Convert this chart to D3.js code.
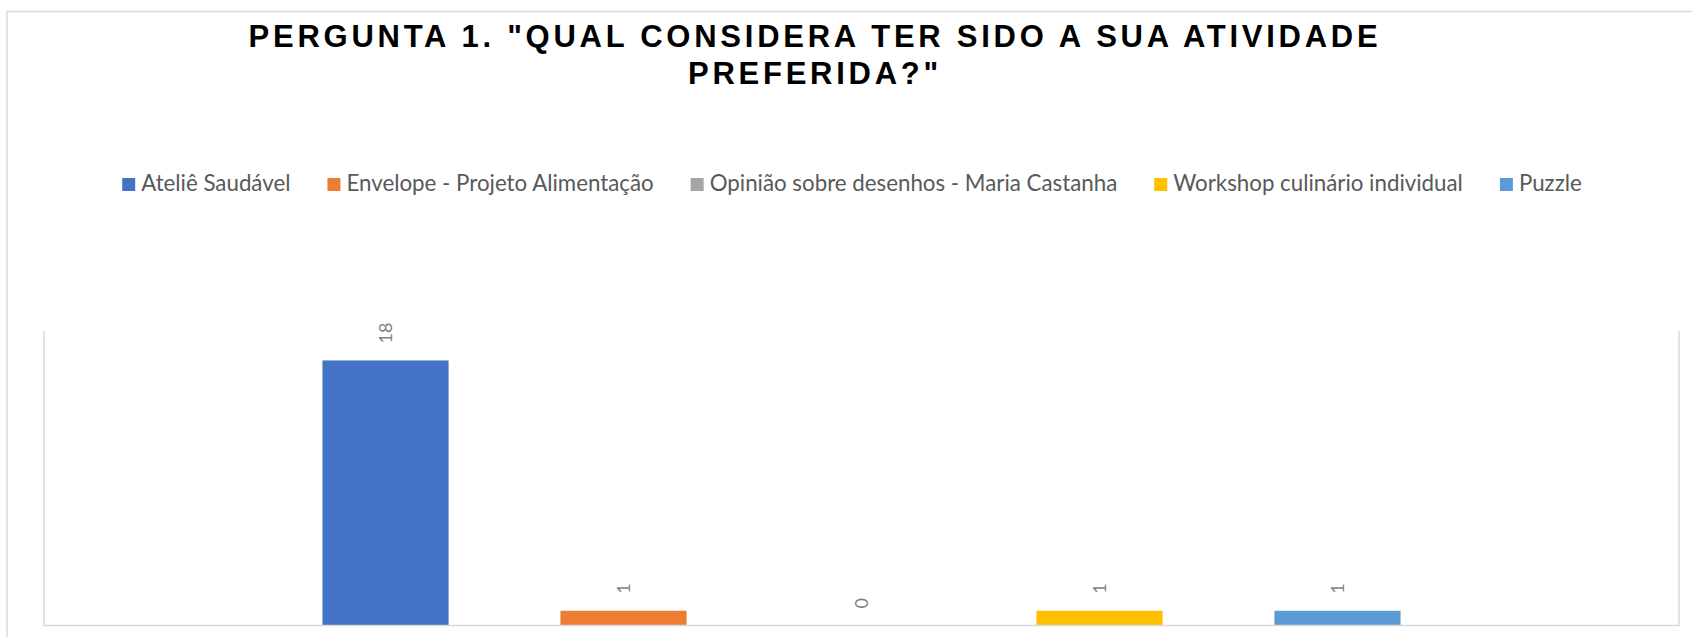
<!DOCTYPE html>
<html>
<head>
<meta charset="utf-8">
<script src="https://cdn.jsdelivr.net/npm/d3@7"></script>
<style>
  body { margin: 0; background: #fff; }
  svg { display: block; }
</style>
</head>
<body>
<svg id="chart"></svg>
<script>
const titleLines = ['PERGUNTA 1. "QUAL CONSIDERA TER SIDO A SUA ATIVIDADE', 'PREFERIDA?"'];
const series = [
  'Ateliê Saudável',
  'Envelope - Projeto Alimentação',
  'Opinião sobre desenhos - Maria Castanha',
  'Workshop culinário individual',
  'Puzzle'
];
const values = [18, 1, 0, 1, 1];
const colors = ['#4472C4', '#ED7D31', '#A5A5A5', '#FFC000', '#5B9BD5'];
const yDomain = [0, 20];

const W = 1692, H = 637;
const plot = { left: 44, right: 1679, top: 331, bottom: 625.5 };

const svg = d3.select('#chart')
  .attr('width', W)
  .attr('height', H)
  .attr('viewBox', `0 0 ${W} ${H}`);

// outer frame (top + left only visible)
svg.append('path')
  .attr('d', `M7,${H} V11.5 H${W}`)
  .attr('fill', 'none')
  .attr('stroke', '#d9d9d9')
  .attr('stroke-width', 1.5);

// title
const title = svg.append('text')
  .attr('text-anchor', 'middle')
  .style('font-family', '"Liberation Sans", Arial, sans-serif')
  .style('font-weight', 'bold')
  .style('font-size', '31px')
  .style('letter-spacing', '3.75px')
  .attr('fill', '#000');

title.selectAll('tspan')
  .data(titleLines)
  .join('tspan')
  .attr('x', 815)
  .attr('y', (d, i) => 47 + i * 37)
  .text(d => d);

// legend
const legend = svg.append('g').attr('class', 'legend');
const legendFont = 22.3;
const items = legend.selectAll('g')
  .data(series)
  .join('g');

items.append('rect')
  .attr('width', 13)
  .attr('height', 13)
  .attr('y', 178)
  .attr('fill', (d, i) => colors[i]);

items.append('text')
  .attr('x', 19)
  .attr('y', 191)
  .style('font-family', 'Lato, "Open Sans", sans-serif')
  .style('font-size', legendFont + 'px')
  .attr('fill', '#595959')
  .text(d => d);

let cursor = 0;
const offsets = [];
items.each(function () {
  const w = d3.select(this).select('text').node().getComputedTextLength();
  offsets.push(cursor);
  cursor += 19 + w + 37;
});
const legendWidth = cursor - 37;
const legendStart = 852 - legendWidth / 2;
items.attr('transform', (d, i) => `translate(${legendStart + offsets[i]},0)`);

// scales
const x = d3.scaleBand()
  .domain(series)
  .range([plot.left, plot.right])
  .paddingInner(0.47)
  .paddingOuter(1.17);

const y = d3.scaleLinear()
  .domain(yDomain)
  .range([plot.bottom, plot.top]);

// bars
svg.append('g')
  .selectAll('rect')
  .data(series)
  .join('rect')
  .attr('x', d => x(d))
  .attr('width', x.bandwidth())
  .attr('y', (d, i) => y(values[i]))
  .attr('height', (d, i) => y(0) - y(values[i]))
  .attr('fill', (d, i) => colors[i]);

// plot area lines: left, bottom, right
svg.append('path')
  .attr('d', `M${plot.left},${plot.top} V${plot.bottom} H${plot.right} V${plot.top}`)
  .attr('fill', 'none')
  .attr('stroke', '#d9d9d9')
  .attr('stroke-width', 1.5);

// data labels, rotated
svg.append('g')
  .selectAll('text')
  .data(series)
  .join('text')
  .attr('transform', (d, i) => `translate(${x(d) + x.bandwidth() / 2},${y(values[i]) - 17}) rotate(-90)`)
  .attr('dy', '0.35em')
  .attr('text-anchor', 'start')
  .style('font-family', 'Lato, "Open Sans", sans-serif')
  .style('font-size', '18px')
  .attr('fill', '#7f7f7f')
  .text((d, i) => values[i]);
</script>
</body>
</html>
